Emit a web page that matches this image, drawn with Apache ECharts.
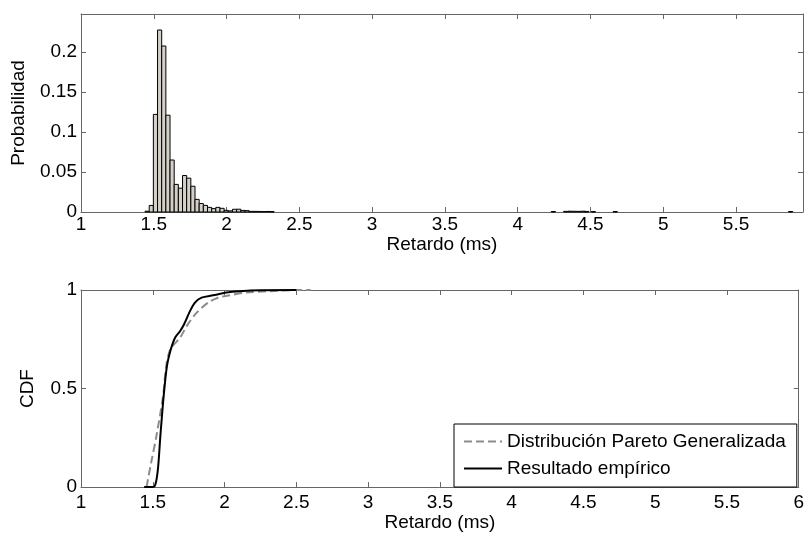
<!DOCTYPE html>
<html>
<head>
<meta charset="utf-8">
<script src="https://cdn.jsdelivr.net/npm/echarts@6/dist/echarts.min.js"></script>
<style>
  html, body { margin: 0; padding: 0; background: #fff; }
  #chart { width: 807px; height: 533px; }
</style>
</head>
<body>
<div id="chart"></div>
<script>
// 直方图：等宽分箱（前段连续，后段零星的小箱）
const binStart = 1.44
const binWidth = 0.0286
const binProb = [0.001, 0.0082, 0.122, 0.2275, 0.2075, 0.121, 0.065, 0.0345, 0.0298, 0.0456,
  0.0423, 0.0322, 0.0158, 0.0106, 0.0083, 0.0058, 0.0042, 0.0058, 0.0046, 0.0021,
  0.0014, 0.0034, 0.0035, 0.002, 0.0017, 0.0008, 0.0008, 0.0007, 0.0005, 0.0007, 0.0006]
const tailCenters = [4.245, 4.33, 4.36, 4.39, 4.42, 4.45, 4.475, 4.52, 4.67, 5.875]
const tailProb = [0.0006, 0.0008, 0.001, 0.0009, 0.0008, 0.001, 0.0007, 0.0005, 0.0006, 0.0006]

// CDF 曲线
const empX = [1.44, 1.484, 1.512, 1.534, 1.553, 1.576, 1.599, 1.626, 1.656, 1.691, 1.718, 1.76,
  1.794, 1.84, 1.92, 2.013, 2.105, 2.25, 2.5]
const empY = [0, 0, 0.003, 0.078, 0.26, 0.463, 0.615, 0.699, 0.759, 0.792, 0.826, 0.894,
  0.936, 0.961, 0.973, 0.987, 0.994, 0.999, 1]
const gpdX = [1.4566, 1.489, 1.5255, 1.572, 1.594, 1.622, 1.691, 1.737, 1.806, 1.886, 1.955,
  2.036, 2.151, 2.31, 2.45, 2.6]
const gpdY = [0, 0.125, 0.26, 0.463, 0.615, 0.699, 0.759, 0.818, 0.885, 0.936, 0.961,
  0.973, 0.987, 0.994, 0.999, 1]

const xLabel = 'Retardo (ms)'
const gpdName = 'Distribución Pareto Generalizada'
const empName = 'Resultado empírico'

const FONT = 'Liberation Sans, Arial, sans-serif'
const AXIS_COLOR = '#666'
const FS = 19

const binData = binProb.map((p, i) => [binStart + binWidth * (i + 0.5), p])
  .concat(tailCenters.map((c, i) => [c, tailProb[i]]))

// 画矩形柱
const renderBin = (params, api) => {
  const c = api.value(0)
  const p = api.value(1)
  const a = api.coord([c - binWidth / 2, p])
  const b = api.coord([c + binWidth / 2, 0])
  return {
    type: 'rect',
    shape: { x: a[0], y: a[1], width: b[0] - a[0], height: b[1] - a[1] },
    style: { fill: '#d4d0c8', stroke: '#000', lineWidth: 1 },
  }
}

const mkX = (grid, min, max, opts = {}) => ({
  type: 'value',
  gridIndex: grid,
  min,
  max,
  interval: 0.5,
  position: opts.top ? 'top' : 'bottom',
  name: opts.top ? '' : xLabel,
  nameLocation: 'middle',
  nameGap: opts.nameGap || 20,
  nameTextStyle: { color: '#000', fontSize: FS, fontFamily: FONT },
  axisLine: { show: true, onZero: false, lineStyle: { color: AXIS_COLOR, width: 1 } },
  axisTick: { show: true, inside: true, length: 5, lineStyle: { color: AXIS_COLOR } },
  axisLabel: {
    show: !opts.top,
    color: '#000',
    fontSize: FS,
    fontFamily: FONT,
    margin: opts.margin || 3,
    showMaxLabel: opts.showMax || false,
  },
  splitLine: { show: false },
})

const mkY = (grid, max, interval, opts = {}) => ({
  type: 'value',
  gridIndex: grid,
  min: 0,
  max,
  interval,
  position: opts.right ? 'right' : 'left',
  name: opts.right ? '' : opts.name,
  nameLocation: 'middle',
  nameGap: opts.nameGap || 50,
  nameTextStyle: { color: '#000', fontSize: FS, fontFamily: FONT },
  axisLine: { show: true, onZero: false, lineStyle: { color: AXIS_COLOR, width: 1 } },
  axisTick: { show: true, inside: true, length: 5, lineStyle: { color: AXIS_COLOR } },
  axisLabel: {
    show: !opts.right,
    color: '#000',
    fontSize: FS,
    fontFamily: FONT,
    margin: 4,
    showMaxLabel: opts.showMax || false,
  },
  splitLine: { show: false },
})

const chart = echarts.init(document.getElementById('chart'), null, { renderer: 'canvas' })

chart.setOption({
  backgroundColor: '#fff',
  animation: false,
  textStyle: { fontFamily: FONT },
  grid: [
    { left: 81, right: 4, top: 14, height: 198 },
    { left: 81, right: 4, top: 290, height: 198 },
  ],
  xAxis: [
    mkX(0, 1, 5.96, { nameGap: 21 }),
    mkX(0, 1, 5.96, { top: true }),
    mkX(1, 1, 6, { nameGap: 24, margin: 6, showMax: true }),
    mkX(1, 1, 6, { top: true }),
  ],
  yAxis: [
    mkY(0, 0.2475, 0.05, { name: 'Probabilidad', nameGap: 53 }),
    mkY(0, 0.2475, 0.05, { right: true }),
    mkY(1, 1, 0.5, { name: 'CDF', nameGap: 44, showMax: true }),
    mkY(1, 1, 0.5, { right: true }),
  ],
  legend: {
    data: [gpdName, empName],
    orient: 'vertical',
    left: 454,
    top: 424,
    padding: [8, 11, 9, 9],
    itemWidth: 38,
    itemHeight: 17,
    itemGap: 8,
    borderColor: '#000',
    borderWidth: 1,
    backgroundColor: '#fff',
    selectedMode: false,
    itemStyle: { opacity: 0 },
    textStyle: { color: '#000', fontSize: FS, fontFamily: FONT },
  },
  series: [
    {
      type: 'custom',
      xAxisIndex: 0,
      yAxisIndex: 0,
      renderItem: renderBin,
      encode: { x: 0, y: 1 },
      data: binData,
    },
    {
      name: gpdName,
      type: 'line',
      xAxisIndex: 2,
      yAxisIndex: 2,
      symbol: 'none',
      smooth: 0.3,
      lineStyle: { color: '#8c8c8c', width: 2, type: [8, 4] },
      itemStyle: { color: '#8c8c8c' },
      data: gpdX.map((x, i) => [x, gpdY[i]]),
    },
    {
      name: empName,
      type: 'line',
      xAxisIndex: 2,
      yAxisIndex: 2,
      symbol: 'none',
      smooth: 0.3,
      lineStyle: { color: '#000', width: 2 },
      itemStyle: { color: '#000' },
      data: empX.map((x, i) => [x, empY[i]]),
    },
  ],
})
</script>
</body>
</html>
